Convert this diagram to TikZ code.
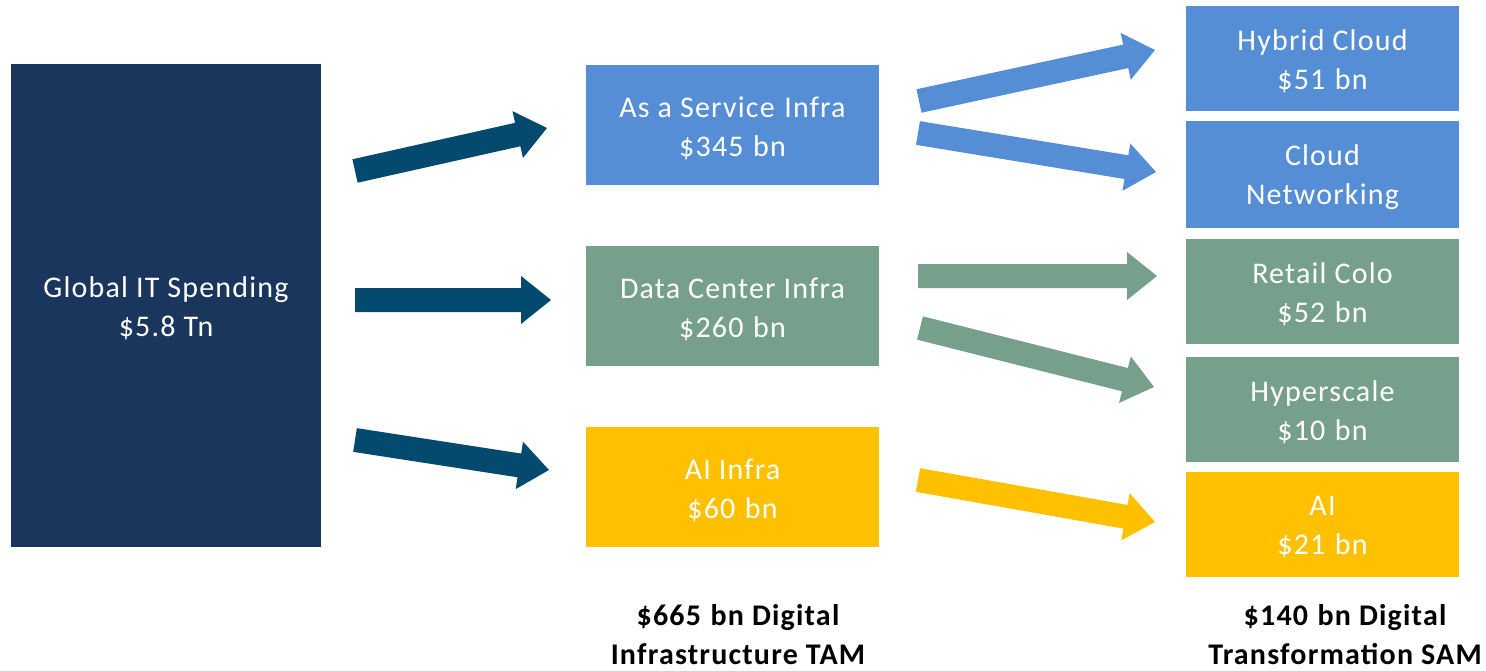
\documentclass[tikz,border=0pt]{standalone}
\usepackage{fontspec}
\setmainfont{Carlito}[LetterSpace=4]
\usetikzlibrary{calc}
\definecolor{navy}{HTML}{1A365D}
\definecolor{arrdark}{HTML}{044A6E}
\definecolor{cblue}{HTML}{558ED5}
\definecolor{cgreen}{HTML}{76A08C}
\definecolor{cyellow}{HTML}{FFC000}
\newcommand\wsp{\ \hspace{0.05em}}
\newcommand\blockarr[3]{%
  \fill[#1] ($(#2)!12pt!90:(#3)$) -- ($($(#3)!30pt!(#2)$)!12pt!90:(#3)$)
    -- ($($(#3)!30pt!(#2)$)!24pt!90:(#3)$) -- (#3)
    -- ($($(#3)!30pt!(#2)$)!24pt!-90:(#3)$) -- ($($(#3)!30pt!(#2)$)!12pt!-90:(#3)$)
    -- ($(#2)!12pt!-90:(#3)$) -- cycle;}
\begin{document}
\begin{tikzpicture}[x=1pt,y=-1pt,
  box/.style={inner sep=0pt, outer sep=0pt},
  txt/.style={inner sep=0pt, text=white, align=center,
    font=\fontsize{30}{39}\selectfont},
  lbl/.style={inner sep=0pt, align=center, font=\bfseries\fontsize{30}{39}\selectfont}]
\useasboundingbox (0,0) rectangle (1486,671);
% boxes
\node[box, fill=navy, minimum width=310pt, minimum height=483pt] (glob) at (166,305.5) {};
\node[box, fill=cblue, minimum width=293pt, minimum height=120pt] (aas) at (732.5,125) {};
\node[box, fill=cgreen, minimum width=293pt, minimum height=120pt] (dc) at (732.5,306) {};
\node[box, fill=cyellow, minimum width=293pt, minimum height=120pt] (ai) at (732.5,487) {};
\node[box, fill=cblue, minimum width=273pt, minimum height=105pt] (hc) at (1322.5,58.5) {};
\node[box, fill=cblue, minimum width=273pt, minimum height=107pt] (cn) at (1322.5,174.5) {};
\node[box, fill=cgreen, minimum width=273pt, minimum height=105pt] (rc) at (1322.5,291.5) {};
\node[box, fill=cgreen, minimum width=273pt, minimum height=105pt] (hs) at (1322.5,409.5) {};
\node[box, fill=cyellow, minimum width=273pt, minimum height=105pt] (air) at (1322.5,524.5) {};
% texts
\node[txt] (globt) at ([yshift=-3pt]glob.center) {Global IT Spending\\\$5.8 Tn};
\node[txt] (aast) at ([yshift=-3pt]aas.center) {As a Service\wsp Infra\\\$345\wsp bn};
\node[txt] (dct) at ([yshift=-3pt]dc.center) {Data Center Infra\\\$260\wsp bn};
\node[txt] (ait) at ([yshift=-3pt]ai.center) {AI Infra\\\$60\wsp bn};
\node[txt] (hct) at ([yshift=-3pt]hc.center) {Hybrid Cloud\\\$51\wsp bn};
\node[txt] (cnt) at ([yshift=-3pt]cn.center) {Cloud\\Networking};
\node[txt] (rct) at ([yshift=-3pt]rc.center) {Retail Colo\\\$52\wsp bn};
\node[txt] (hst) at ([yshift=-3pt]hs.center) {Hyperscale\\\$10\wsp bn};
\node[txt] (airt) at ([yshift=-3pt]air.center) {AI\\\$21\wsp bn};
% labels
\node[lbl] (tam) at (738,635) {\$665\wsp bn Digital\\Infrastructure TAM};
\node[lbl] (sam) at (1345,635) {\$140\wsp bn Digital\\Transformation SAM};
% arrow end points
\coordinate (t1) at (355,171); \coordinate (h1) at (547,128);
\coordinate (t2) at (355,300); \coordinate (h2) at (551,300);
\coordinate (t3) at (355,440); \coordinate (h3) at (549,470);
\coordinate (t4) at (919,101); \coordinate (h4) at (1155,50);
\coordinate (t5) at (918,133); \coordinate (h5) at (1156,172);
\coordinate (t6) at (918,276); \coordinate (h6) at (1157,276);
\coordinate (t7) at (920,328); \coordinate (h7) at (1154,387);
\coordinate (t8) at (918,480); \coordinate (h8) at (1155,522);
\blockarr{arrdark}{t1}{h1}
\blockarr{arrdark}{t2}{h2}
\blockarr{arrdark}{t3}{h3}
\blockarr{cblue}{t4}{h4}
\blockarr{cblue}{t5}{h5}
\blockarr{cgreen}{t6}{h6}
\blockarr{cgreen}{t7}{h7}
\blockarr{cyellow}{t8}{h8}
\end{tikzpicture}
\end{document}
